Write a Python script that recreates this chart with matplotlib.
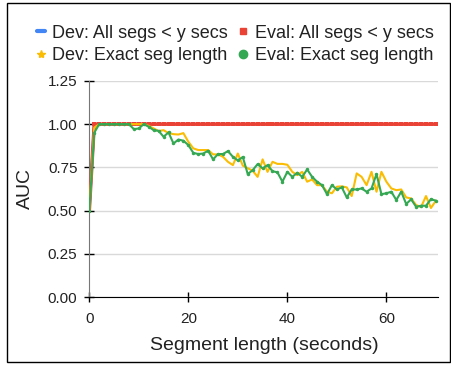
import matplotlib.pyplot as plt
from matplotlib.lines import Line2D
from matplotlib.patches import Rectangle

plt.rcParams['font.family'] = ['Liberation Sans', 'DejaVu Sans']

# segment length in seconds
seg_len = list(range(0, 71))

# AUC, all segments shorter than y seconds (dev and eval overlap at 1.0)
dev_all = [0.50] + [1.0] * 70
eval_all = [0.50] + [1.0] * 70

# AUC, exact segment length
dev_exact = [0.50, 0.98, 1.0, 1.0, 1.0, 1.0, 1.0, 1.0, 1.0, 1.0,
             1.0, 1.0, 0.99, 0.975, 0.96, 0.965, 0.948, 0.942, 0.94, 0.948,
             0.898, 0.86, 0.85, 0.85, 0.85, 0.825, 0.825, 0.811, 0.782, 0.763,
             0.83, 0.76, 0.745, 0.73, 0.695, 0.796, 0.724, 0.782, 0.77, 0.77,
             0.765, 0.724, 0.705, 0.724, 0.667, 0.68, 0.647, 0.647, 0.609, 0.60,
             0.638, 0.64, 0.634, 0.584, 0.715, 0.695, 0.647, 0.724, 0.609, 0.724,
             0.667, 0.628, 0.618, 0.622, 0.576, 0.57, 0.532, 0.52, 0.584, 0.515,
             0.557]
eval_exact = [0.50, 0.95, 1.0, 1.0, 1.0, 1.0, 1.0, 1.0, 1.0, 0.971,
              0.975, 1.0, 0.985, 0.965, 0.961, 0.927, 0.952, 0.888, 0.911, 0.904,
              0.879, 0.834, 0.827, 0.83, 0.846, 0.796, 0.827, 0.827, 0.844, 0.811,
              0.79, 0.81, 0.711, 0.734, 0.769, 0.744, 0.763, 0.728, 0.721, 0.667,
              0.724, 0.695, 0.719, 0.695, 0.738, 0.695, 0.667, 0.647, 0.595, 0.647,
              0.622, 0.634, 0.576, 0.622, 0.622, 0.628, 0.609, 0.628, 0.711, 0.595,
              0.60, 0.609, 0.561, 0.609, 0.538, 0.565, 0.522, 0.528, 0.528, 0.566,
              0.557]

yticks = [0.0, 0.25, 0.5, 0.75, 1.0, 1.25]
xticks = [0, 20, 40, 60]

blue = '#4285F4'
red = '#EA4335'
yellow = '#FBBC04'
green = '#34A853'

fig = plt.figure(figsize=(4.51, 3.65), dpi=100)
fig.patches.append(Rectangle((7 / 451, 3 / 365), 443 / 451, 359 / 365,
                             transform=fig.transFigure, fill=False,
                             edgecolor='black', linewidth=1))
ax = fig.add_axes([0.198, 0.1863, 0.774, 0.592])

ax.plot(seg_len, dev_all, color=blue, linewidth=2, zorder=3)
ax.plot(seg_len, eval_all, color=red, linewidth=2.5, marker='s', markersize=2.4,
        markeredgewidth=0, zorder=4)
ax.plot(seg_len, dev_exact, color=yellow, linewidth=1.5, zorder=5)
ax.plot(seg_len, eval_exact, color=green, linewidth=1.5, marker='o',
        markersize=2.5, markeredgewidth=0, zorder=6)

ax.set_xlim(0, 70.5)
ax.set_ylim(0, 1.25)
ax.set_yticks(yticks)
ax.set_yticklabels([f'{v:.2f}' for v in yticks])
ax.set_xticks(xticks)
ax.yaxis.grid(True, color='#d9d9d9', linewidth=1)
ax.set_axisbelow(True)
for s in ['top', 'right']:
    ax.spines[s].set_visible(False)
ax.spines['left'].set_color('#777777')
ax.spines['bottom'].set_color('black')
ax.tick_params(direction='inout', length=7, width=1, labelsize=11,
               labelcolor='#222222')
ax.tick_params(axis='x', pad=7)
ax.tick_params(axis='y', pad=5)
ax.set_xlabel('Segment length (seconds)', fontsize=14, color='#222222', labelpad=8)
ax.set_ylabel('AUC', fontsize=14, color='#222222', labelpad=10)

handles = [
    Line2D([], [], color=blue, linewidth=3, solid_capstyle='round'),
    Line2D([], [], color=yellow, linestyle='none', marker='*', markersize=6),
    Line2D([], [], color=red, linestyle='none', marker='s', markersize=5),
    Line2D([], [], color=green, linestyle='none', marker='o', markersize=6),
]
labels = ['Dev: All segs < y secs', 'Dev: Exact seg length',
          'Eval: All segs < y secs', 'Eval: Exact seg length']
fig.legend(handles, labels, ncol=2, loc='upper left',
           bbox_to_anchor=(0.045, 0.977), frameon=False, fontsize=13,
           handlelength=0.45, handletextpad=0.4, columnspacing=0.65,
           labelspacing=0.3, labelcolor='#222222')

fig.savefig('out.png', dpi=100)
